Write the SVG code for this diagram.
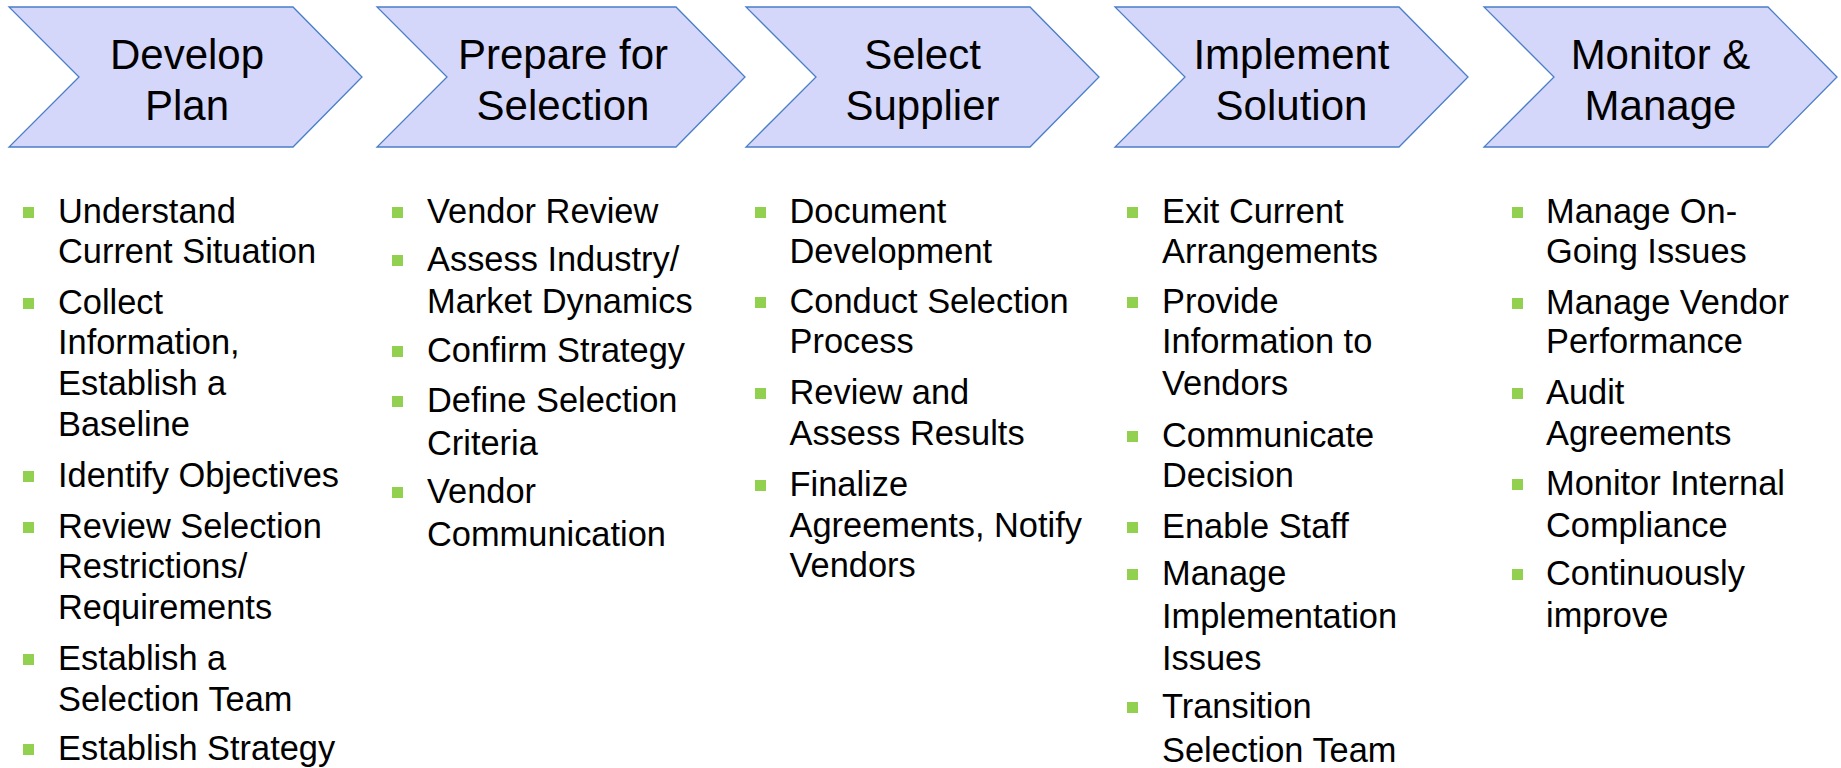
<svg xmlns="http://www.w3.org/2000/svg" width="1841" height="768" viewBox="0 0 1841 768">
<style>
.chev{fill:#D4D7FA;stroke:#4A7EC8;stroke-width:1.3}
.ct{font-family:"Liberation Sans",Arial,sans-serif;font-size:42px;fill:#000;text-anchor:middle}
.bt{font-family:"Liberation Sans",Arial,sans-serif;font-size:34.4px;fill:#000}
.sq{fill:#92D050}
</style>
<defs>
<path id="chev" d="M0,7 L284,7 L353,77 L284,147 L0,147 L70,77 Z"/>
</defs>
<rect width="1841" height="768" fill="#fff"/>
<g id="connectors"></g>

<g id="step1">
<use href="#chev" class="chev" x="9"/>
<text class="ct" x="187" y="69">Develop</text><text class="ct" x="187" y="120">Plan</text>
</g>
<g id="step2">
<path class="chev" d="M377,7 L676,7 L745,77 L676,147 L377,147 L447,77 Z"/>
<text class="ct" x="563" y="69">Prepare for</text><text class="ct" x="563" y="120">Selection</text>
</g>
<g id="step3">
<use href="#chev" class="chev" x="746"/>
<text class="ct" x="922.5" y="69">Select</text><text class="ct" x="922.5" y="120">Supplier</text>
</g>
<g id="step4">
<use href="#chev" class="chev" x="1115"/>
<text class="ct" x="1291.5" y="69">Implement</text><text class="ct" x="1291.5" y="120">Solution</text>
</g>
<g id="step5">
<use href="#chev" class="chev" x="1484"/>
<text class="ct" x="1660.5" y="69">Monitor &amp;</text><text class="ct" x="1660.5" y="120">Manage</text>
</g>

<g id="list1">
<rect class="sq" x="23" y="207" width="11" height="11"/>
<text class="bt" x="58" y="223">Understand</text>
<text class="bt" x="58" y="263">Current Situation</text>
<rect class="sq" x="23" y="298" width="11" height="11"/>
<text class="bt" x="58" y="314">Collect</text>
<text class="bt" x="58" y="354">Information,</text>
<text class="bt" x="58" y="395">Establish a</text>
<text class="bt" x="58" y="436">Baseline</text>
<rect class="sq" x="23" y="471" width="11" height="11"/>
<text class="bt" x="58" y="487">Identify Objectives</text>
<rect class="sq" x="23" y="522" width="11" height="11"/>
<text class="bt" x="58" y="538">Review Selection</text>
<text class="bt" x="58" y="578">Restrictions/</text>
<text class="bt" x="58" y="619">Requirements</text>
<rect class="sq" x="23" y="654" width="11" height="11"/>
<text class="bt" x="58" y="670">Establish a</text>
<text class="bt" x="58" y="711">Selection Team</text>
<rect class="sq" x="23" y="744" width="11" height="11"/>
<text class="bt" x="58" y="760">Establish Strategy</text>
</g>

<g id="list2">
<rect class="sq" x="392" y="207" width="11" height="11"/>
<text class="bt" x="427" y="223">Vendor Review</text>
<rect class="sq" x="392" y="255" width="11" height="11"/>
<text class="bt" x="427" y="271">Assess Industry/</text>
<text class="bt" x="427" y="313">Market Dynamics</text>
<rect class="sq" x="392" y="346" width="11" height="11"/>
<text class="bt" x="427" y="362">Confirm Strategy</text>
<rect class="sq" x="392" y="396" width="11" height="11"/>
<text class="bt" x="427" y="412">Define Selection</text>
<text class="bt" x="427" y="455">Criteria</text>
<rect class="sq" x="392" y="487" width="11" height="11"/>
<text class="bt" x="427" y="503">Vendor</text>
<text class="bt" x="427" y="546">Communication</text>
</g>

<g id="list3">
<rect class="sq" x="755" y="207" width="11" height="11"/>
<text class="bt" x="789.5" y="223">Document</text>
<text class="bt" x="789.5" y="263">Development</text>
<rect class="sq" x="755" y="297" width="11" height="11"/>
<text class="bt" x="789.5" y="313">Conduct Selection</text>
<text class="bt" x="789.5" y="353">Process</text>
<rect class="sq" x="755" y="388" width="11" height="11"/>
<text class="bt" x="789.5" y="404">Review and</text>
<text class="bt" x="789.5" y="445">Assess Results</text>
<rect class="sq" x="755" y="480" width="11" height="11"/>
<text class="bt" x="789.5" y="496">Finalize</text>
<text class="bt" x="789.5" y="537">Agreements, Notify</text>
<text class="bt" x="789.5" y="577">Vendors</text>
</g>

<g id="list4">
<rect class="sq" x="1127" y="207" width="11" height="11"/>
<text class="bt" x="1162" y="223">Exit Current</text>
<text class="bt" x="1162" y="263">Arrangements</text>
<rect class="sq" x="1127" y="297" width="11" height="11"/>
<text class="bt" x="1162" y="313">Provide</text>
<text class="bt" x="1162" y="353">Information to</text>
<text class="bt" x="1162" y="395">Vendors</text>
<rect class="sq" x="1127" y="431" width="11" height="11"/>
<text class="bt" x="1162" y="447">Communicate</text>
<text class="bt" x="1162" y="487">Decision</text>
<rect class="sq" x="1127" y="522" width="11" height="11"/>
<text class="bt" x="1162" y="538">Enable Staff</text>
<rect class="sq" x="1127" y="569" width="11" height="11"/>
<text class="bt" x="1162" y="585">Manage</text>
<text class="bt" x="1162" y="628">Implementation</text>
<text class="bt" x="1162" y="670">Issues</text>
<rect class="sq" x="1127" y="702" width="11" height="11"/>
<text class="bt" x="1162" y="718">Transition</text>
<text class="bt" x="1162" y="762">Selection Team</text>
</g>

<g id="list5">
<rect class="sq" x="1512" y="207" width="11" height="11"/>
<text class="bt" x="1546" y="223">Manage On-</text>
<text class="bt" x="1546" y="263">Going Issues</text>
<rect class="sq" x="1512" y="298" width="11" height="11"/>
<text class="bt" x="1546" y="314">Manage Vendor</text>
<text class="bt" x="1546" y="353">Performance</text>
<rect class="sq" x="1512" y="388" width="11" height="11"/>
<text class="bt" x="1546" y="404">Audit</text>
<text class="bt" x="1546" y="445">Agreements</text>
<rect class="sq" x="1512" y="479" width="11" height="11"/>
<text class="bt" x="1546" y="495">Monitor Internal</text>
<text class="bt" x="1546" y="537">Compliance</text>
<rect class="sq" x="1512" y="569" width="11" height="11"/>
<text class="bt" x="1546" y="585">Continuously</text>
<text class="bt" x="1546" y="627">improve</text>
</g>
</svg>
